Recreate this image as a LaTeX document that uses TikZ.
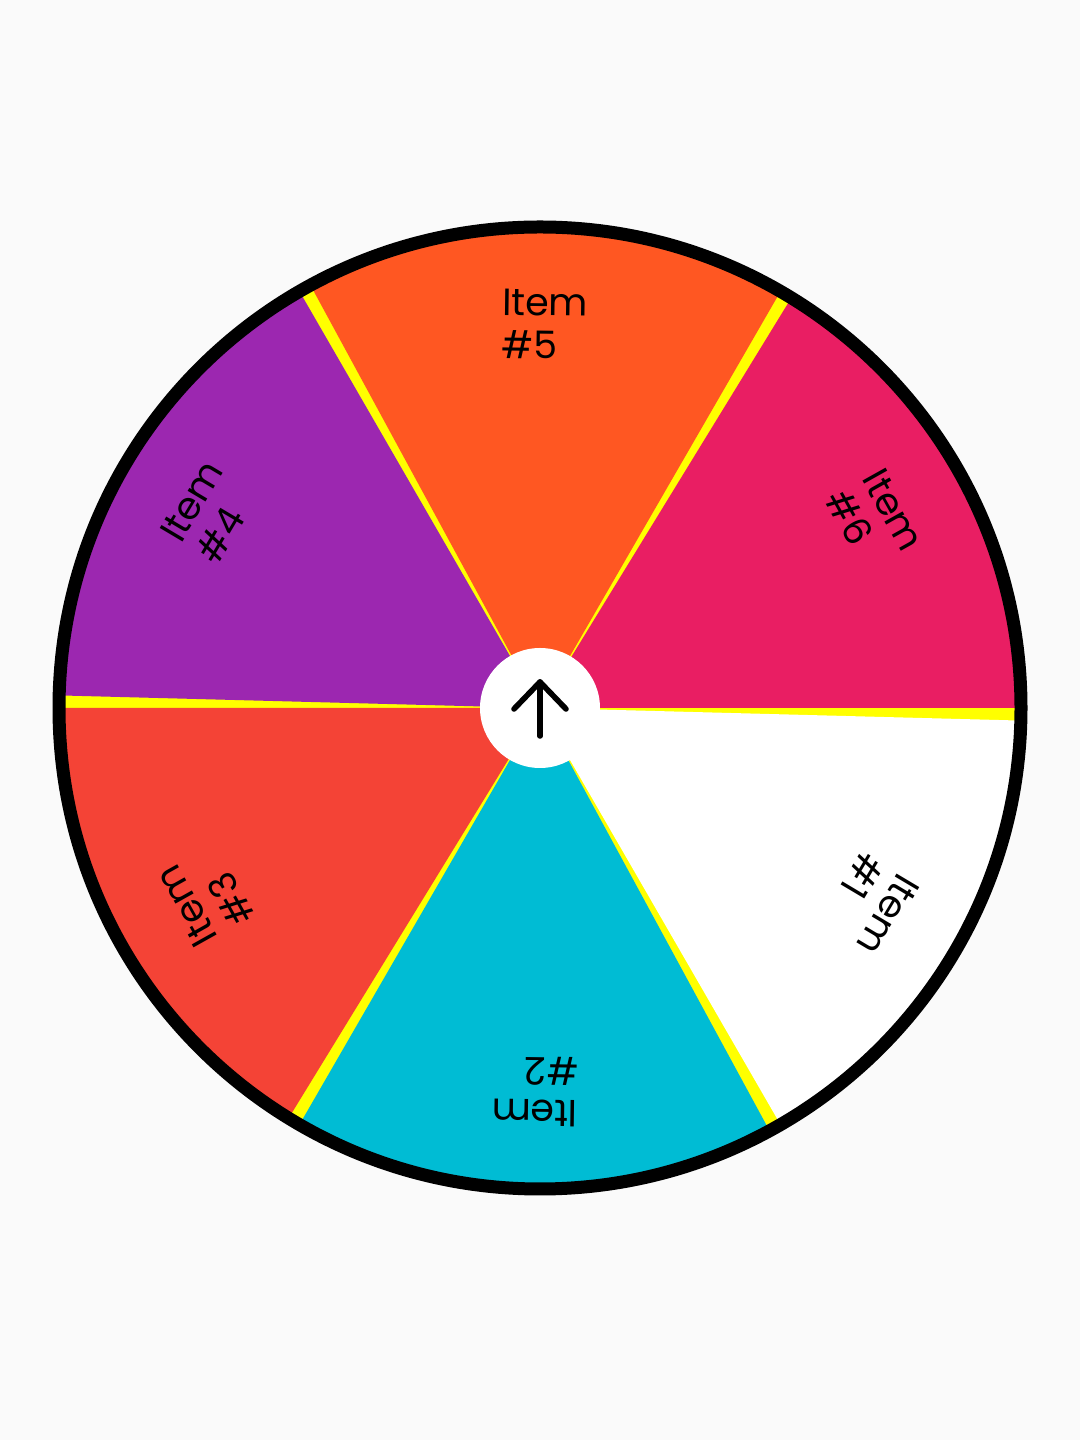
\documentclass[tikz,border=0pt]{standalone}
\usepackage{fontspec}
\setmainfont{Poppins}
\usetikzlibrary{calc}
\definecolor{bg}{HTML}{FAFAFA}
\definecolor{gapyellow}{HTML}{FFFF00}
\definecolor{cwhite}{HTML}{FFFFFF}
\definecolor{cteal}{HTML}{00BCD4}
\definecolor{cred}{HTML}{F44336}
\definecolor{cpurple}{HTML}{9C27B0}
\definecolor{corange}{HTML}{FF5722}
\definecolor{cpink}{HTML}{E91E63}
\tikzset{
  itemlabel/.style={font=\fontsize{28.5pt}{32pt}\selectfont, align=left, text=black, inner sep=0pt},
  ringline/.style={draw=black, line width=9.75pt},
  arrowline/.style={draw=black, line width=4.2pt, line cap=round, line join=round}
}
\begin{document}
\begin{tikzpicture}[x=0.75pt,y=0.75pt]
\useasboundingbox (0,0) rectangle (1080,1440);
\fill[bg] (0,0) rectangle (1080,1440);
\coordinate (C) at (540,732);
% yellow base
\fill[gapyellow] (C) circle[radius=476];
% sectors: start angle, colour
\foreach \s/\c in {0/cpink,60/corange,120/cpurple,180/cred,240/cteal,300/cwhite}{
  \fill[\c] (C) -- ($(C)+(\s:476)$) arc[start angle=\s, end angle=\s+58.5, radius=476] -- cycle;
}
% labels
\foreach \i/\s in {6/0,5/60,4/120,3/180,2/240,1/300}{
  \pgfmathsetmacro{\m}{\s+29.25}
  \pgfmathsetmacro{\r}{\m-90}
  \node[itemlabel, rotate=\r] (label\i) at ($(C)+(\m:384)$) {Item\\\#\i};
}
% ring
\draw[ringline] (C) circle[radius=481];
% hub
\fill[white] (C) circle[radius=60];
\coordinate (tip) at (540,758);
\coordinate (tail) at (540,704);
\coordinate (wl) at (514,731);
\coordinate (wr) at (566,731);
\draw[arrowline] (tail) -- (tip);
\draw[arrowline] (wl) -- (tip) -- (wr);
\end{tikzpicture}
\end{document}
